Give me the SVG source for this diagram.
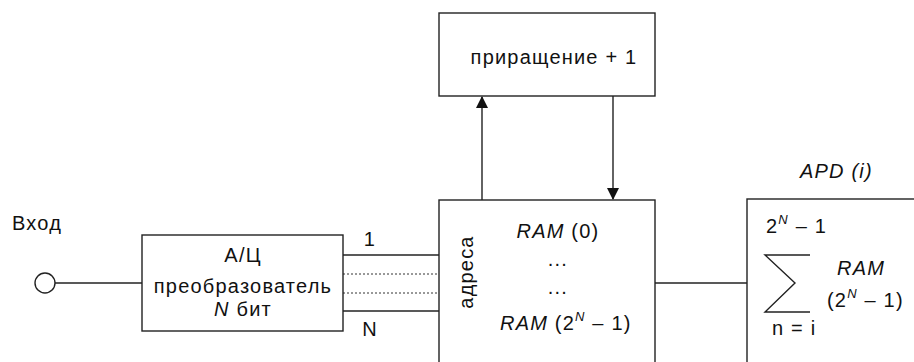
<svg xmlns="http://www.w3.org/2000/svg" width="914" height="362" viewBox="0 0 914 362">
<style>
.box{fill:#fff;stroke:#222;stroke-width:1.4}
.ln{fill:none;stroke:#222;stroke-width:1.4}
.dot{fill:none;stroke:#333;stroke-width:1;stroke-dasharray:2 2}
text{font-family:"Liberation Sans",Arial,sans-serif;font-size:20px;fill:#111;letter-spacing:1.2px}
.c{text-anchor:middle}
.i{font-style:italic}
.sup{font-size:13px;font-style:italic}
</style>
<defs>
<marker id="ah" markerWidth="12" markerHeight="12" refX="11" refY="6" orient="auto" markerUnits="userSpaceOnUse">
<path d="M0,0 L12,6 L0,12 Z" fill="#111"/>
</marker>
</defs>
<rect width="914" height="362" fill="#fff"/>
<g id="connectors">
<line class="ln" x1="55" y1="283" x2="142" y2="283"/>
<line class="ln" x1="343" y1="255" x2="439" y2="255"/>
<line class="dot" x1="343" y1="274" x2="439" y2="274"/>
<line class="dot" x1="343" y1="293" x2="439" y2="293"/>
<line class="ln" x1="343" y1="311" x2="439" y2="311"/>
<line class="ln" x1="482" y1="200" x2="482" y2="97" marker-end="url(#ah)"/>
<line class="ln" x1="613" y1="96" x2="613" y2="199" marker-end="url(#ah)"/>
<line class="ln" x1="655" y1="283" x2="747" y2="283"/>
</g>
<g id="input">
<circle cx="45" cy="283" r="10" fill="#fff" stroke="#222" stroke-width="1.4"/>
<text x="12" y="230">Вход</text>
</g>
<g id="adc">
<rect class="box" x="142" y="235" width="201" height="96"/>
<text class="c" x="243" y="262">А/Ц</text>
<text class="c" x="243" y="293">преобразователь</text>
<text class="c" x="243" y="316"><tspan class="i">N</tspan> бит</text>
<text class="c" x="370" y="246">1</text>
<text class="c" x="370" y="336">N</text>
</g>
<g id="increment">
<rect class="box" x="439" y="13" width="216" height="83"/>
<text class="c" x="554" y="64">приращение + 1</text>
</g>
<g id="ram">
<rect class="box" x="439" y="200" width="216" height="180"/>
<text class="c" transform="translate(473,272) rotate(-90)" x="0" y="0">адреса</text>
<text class="c" x="558" y="238"><tspan class="i">RAM</tspan> (0)</text>
<text class="c" x="558" y="266">...</text>
<text class="c" x="558" y="294">...</text>
<text x="500" y="330"><tspan class="i">RAM</tspan> (2<tspan class="sup" dy="-9">N</tspan><tspan dy="9"> – 1)</tspan></text>
</g>
<g id="apd">
<text class="i" x="800" y="178">APD (i)</text>
<rect class="box" x="747" y="199" width="180" height="180"/>
<text x="766" y="233">2<tspan class="sup" dy="-9">N</tspan><tspan dy="9"> – 1</tspan></text>
<path class="ln" d="M810,255 H765 L795,283 L765,312 H810"/>
<text x="772" y="335">n = i</text>
<text class="i" x="837" y="275">RAM</text>
<text x="827" y="307">(2<tspan class="sup" dy="-9">N</tspan><tspan dy="9"> – 1)</tspan></text>
</g>
</svg>
